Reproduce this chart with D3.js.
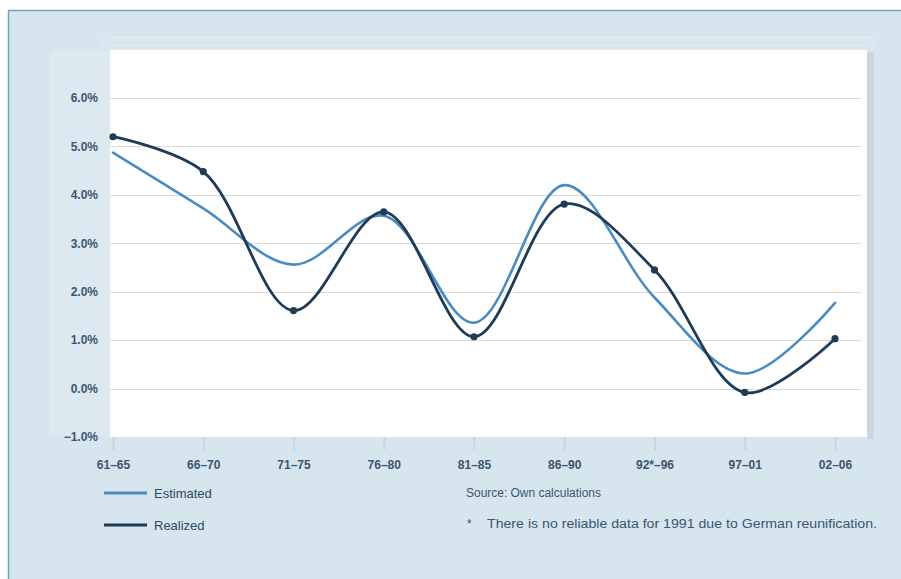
<!DOCTYPE html>
<html>
<head>
<meta charset="utf-8">
<script src="https://cdn.jsdelivr.net/npm/d3@7"></script>
<style>
  html, body { margin: 0; padding: 0; background: #ffffff; }
  svg { display: block; }
  text { font-family: "Liberation Sans Narrow", "Arial Narrow", "Liberation Sans", sans-serif; }
</style>
</head>
<body>
<svg id="chart" width="901" height="579"></svg>
<script>
// Five-year periods
const periods = ["61–65", "66–70", "71–75", "76–80", "81–85", "86–90", "92*–96", "97–01", "02–06"];
// Growth rates, percent
const estimated = [4.87, 3.72, 2.56, 3.57, 1.36, 4.2, 1.88, 0.31, 1.77];
const realized  = [5.2, 4.48, 1.61, 3.65, 1.07, 3.81, 2.45, -0.08, 1.03];
// Y-axis tick values, percent
const yTicks = [-1, 0, 1, 2, 3, 4, 5, 6];

const legendItems = ["Estimated", "Realized"];
const sourceNote = "Source: Own calculations";
const footNote = "There is no reliable data for 1991 due to German reunification.";

const svg = d3.select("#chart");
const W = 901, H = 579;

// panel background and frame
svg.append("rect").attr("x", 0).attr("y", 0).attr("width", W).attr("height", H).attr("fill", "#ffffff");
svg.append("rect").attr("x", 8).attr("y", 10).attr("width", W - 8).attr("height", H - 10).attr("fill", "#d7e5ef");
svg.append("line").attr("x1", 8).attr("x2", W).attr("y1", 10.5).attr("y2", 10.5).attr("stroke", "#6ea9b9").attr("stroke-width", 1.5);
svg.append("line").attr("x1", 8.5).attr("x2", 8.5).attr("y1", 10).attr("y2", H).attr("stroke", "#6ea9b9").attr("stroke-width", 1.5);

// soft band above the plot area
svg.append("rect").attr("x", 100).attr("y", 33).attr("width", 775).attr("height", 17).attr("fill", "#dbe7ef");
svg.append("line").attr("x1", 110).attr("x2", 870).attr("y1", 34.5).attr("y2", 34.5).attr("stroke", "#cfdde7");
svg.append("line").attr("x1", 110).attr("x2", 870).attr("y1", 42.5).attr("y2", 42.5).attr("stroke", "#d2e0ea");

// lighter strip behind y labels
svg.append("rect").attr("x", 50).attr("y", 50).attr("width", 60).attr("height", 387).attr("fill", "#dde9f1");

// plot area
const plot = { left: 110, top: 50, right: 867, bottom: 437 };
svg.append("rect").attr("x", plot.right).attr("y", plot.top + 2).attr("width", 7).attr("height", plot.bottom - plot.top)
  .attr("fill", "#cbd6de");
svg.append("rect").attr("x", plot.left).attr("y", plot.top).attr("width", plot.right - plot.left).attr("height", plot.bottom - plot.top)
  .attr("fill", "#ffffff");

const x = d3.scalePoint().domain(periods).range([113, 835]);
const y = d3.scaleLinear().domain([-1, 6]).range([437, 98]);

// horizontal gridlines
svg.append("g").selectAll("line").data(yTicks.filter(t => t > -1)).join("line")
  .attr("x1", plot.left).attr("x2", plot.right - 6)
  .attr("y1", d => Math.round(y(d)) + 0.5).attr("y2", d => Math.round(y(d)) + 0.5)
  .attr("stroke", "#d9d9d9").attr("stroke-width", 1.2);

// y-axis labels
const fmt = d => (d < 0 ? "−" : "") + Math.abs(d).toFixed(1) + "%";
const yAxis = d3.axisLeft(y).tickValues(yTicks).tickFormat(fmt).tickSize(0).tickPadding(0);
const gy = svg.append("g").attr("transform", "translate(98,0)").call(yAxis);
gy.select(".domain").remove();
gy.selectAll("text").attr("fill", "#3a5670").attr("font-size", 12).attr("font-weight", "bold");

// x-axis labels with faint tick marks
const xAxis = d3.axisBottom(x).tickSize(13).tickPadding(10);
const gx = svg.append("g").attr("transform", `translate(0,${plot.bottom})`).call(xAxis);
gx.select(".domain").remove();
gx.selectAll(".tick line").attr("stroke", "#c6d6e2").attr("stroke-width", 2);
gx.selectAll("text").attr("fill", "#3a5670").attr("font-size", 12).attr("font-weight", "bold");

// series lines
const line = d3.line().x((d, i) => x(periods[i])).y(d => y(d)).curve(d3.curveCatmullRom.alpha(0.5));

svg.append("path").datum(estimated).attr("d", line)
  .attr("fill", "none").attr("stroke", "#4a8cc0").attr("stroke-width", 2.6).attr("stroke-linecap", "round");
svg.append("path").datum(realized).attr("d", line)
  .attr("fill", "none").attr("stroke", "#203b55").attr("stroke-width", 2.8).attr("stroke-linecap", "round");

svg.append("g").selectAll("circle").data(realized).join("circle")
  .attr("cx", (d, i) => x(periods[i])).attr("cy", d => y(d)).attr("r", 3.6)
  .attr("fill", "#203b55");

// legend
const legendColors = ["#4a8cc0", "#203b55"];
const lg = svg.append("g");
legendItems.forEach((name, i) => {
  const ly = 493 + i * 32;
  lg.append("line").attr("x1", 104).attr("x2", 147).attr("y1", ly).attr("y2", ly)
    .attr("stroke", legendColors[i]).attr("stroke-width", 3);
  lg.append("text").attr("x", 154).attr("y", ly + 5).text(name)
    .attr("font-size", 13).attr("fill", "#2e4a63");
});

// notes
svg.append("text").attr("x", 466).attr("y", 497).text(sourceNote)
  .attr("font-size", 12).attr("fill", "#3a5670")
  .attr("textLength", 135).attr("lengthAdjust", "spacingAndGlyphs");
svg.append("text").attr("x", 467).attr("y", 528).text("*")
  .attr("font-size", 12).attr("fill", "#3a5670");
svg.append("text").attr("x", 487).attr("y", 528).text(footNote)
  .attr("font-size", 12).attr("fill", "#3a5670")
  .attr("textLength", 390).attr("lengthAdjust", "spacingAndGlyphs");
</script>
</body>
</html>
